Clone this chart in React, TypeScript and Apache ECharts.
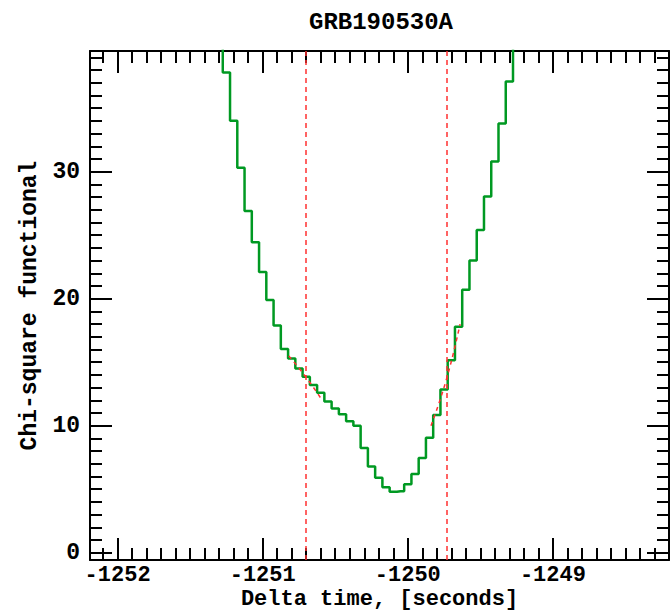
import React, { useEffect, useRef } from 'react';
import * as echarts from 'echarts';

const chartTitle = 'GRB190530A';
const xAxisTitle = 'Delta time, [seconds]';
const yAxisTitle = 'Chi-square functional';

const xRange = [-1252.19, -1248.2];
const yRange = [-0.57, 39.5];

const binTimes = [
  -1251.3, -1251.25, -1251.2, -1251.15, -1251.1, -1251.05, -1251.0, -1250.95, -1250.9, -1250.85,
  -1250.8, -1250.75, -1250.7, -1250.65, -1250.6, -1250.55, -1250.5, -1250.45, -1250.4, -1250.35,
  -1250.3, -1250.25, -1250.2, -1250.15, -1250.1, -1250.05, -1250.0, -1249.95, -1249.9, -1249.85,
  -1249.8, -1249.75, -1249.7, -1249.65, -1249.6, -1249.55, -1249.5, -1249.45, -1249.4, -1249.35,
  -1249.3, -1249.25,
];
const chiSquare = [
  42, 37.8, 34.0, 30.3, 26.9, 24.45, 22.1, 19.9, 17.9, 16.05,
  15.3, 14.5, 13.85, 13.2, 12.6, 11.9, 11.35, 10.9, 10.35, 10.0,
  8.25, 6.8, 5.9, 5.15, 4.8, 4.85, 5.4, 6.2, 7.45, 9.05,
  10.85, 12.85, 15.15, 17.8, 20.7, 23.0, 25.4, 28.05, 30.8, 33.8,
  37.1, 42,
];

const boundaryTimes = [-1250.703, -1249.73];
const leftFitTimes = [-1250.82, -1250.7, -1250.59];
const leftFitValues = [15.5, 13.8, 12.0];
const rightFitTimes = [-1249.84, -1249.73, -1249.64];
const rightFitValues = [10.0, 13.8, 18.0];

const FONT = '"Liberation Mono", "DejaVu Sans Mono", monospace';
const FS = 23;
const XFS = 22;

const isInt = (v: number, step: number) => Math.abs(v / step - Math.round(v / step)) < 1e-6;

function makeX(position: 'top' | 'bottom', labels: boolean) {
  return {
    type: 'value',
    position,
    min: xRange[0],
    max: xRange[1],
    minInterval: 1,
    maxInterval: 1,
    axisLine: { show: true, onZero: false, lineStyle: { color: '#000', width: 2 } },
    axisTick: { show: true, inside: true, length: 22, lineStyle: { color: '#000', width: 2 } },
    minorTick: { show: true, splitNumber: 10, length: 12, lineStyle: { color: '#000', width: 2 } },
    splitLine: { show: false },
    minorSplitLine: { show: false },
    axisLabel: {
      show: labels,
      margin: 4,
      color: '#000',
      fontFamily: FONT,
      fontWeight: 'bold',
      fontSize: XFS,
      lineHeight: 22,
      formatter: (v: number) => (isInt(v, 1) ? String(Math.round(v)) : ''),
    },
    name: labels ? xAxisTitle : '',
    nameLocation: 'middle',
    nameGap: 28,
    nameMoveOverlap: false,
    nameTextStyle: { color: '#000', fontFamily: FONT, fontWeight: 'bold', fontSize: XFS, lineHeight: 22 },
  };
}

function makeY(position: 'left' | 'right', labels: boolean) {
  return {
    type: 'value',
    position,
    min: yRange[0],
    max: yRange[1],
    minInterval: 10,
    maxInterval: 10,
    axisLine: { show: true, onZero: false, lineStyle: { color: '#000', width: 2 } },
    axisTick: { show: true, inside: true, length: 22, lineStyle: { color: '#000', width: 2 } },
    minorTick: { show: true, splitNumber: 10, length: 12, lineStyle: { color: '#000', width: 2 } },
    splitLine: { show: false },
    minorSplitLine: { show: false },
    axisLabel: {
      show: labels,
      margin: 10,
      color: '#000',
      fontFamily: FONT,
      fontWeight: 'bold',
      fontSize: FS,
      formatter: (v: number) => (isInt(v, 10) ? String(Math.round(v)) : ''),
    },
    name: labels ? yAxisTitle : '',
    nameLocation: 'middle',
    nameGap: 49,
    nameMoveOverlap: false,
    nameTextStyle: { color: '#000', fontFamily: FONT, fontWeight: 'bold', fontSize: FS },
  };
}

export default function App() {
  const ref = useRef<HTMLDivElement>(null);
  useEffect(() => {
    if (!ref.current) return;
    const chart = echarts.init(ref.current, null, { renderer: 'svg' });
    chart.setOption({
      animation: false,
      backgroundColor: '#fff',
      grid: { left: 90, right: 1, top: 51, bottom: 53, outerBoundsMode: 'none', containLabel: false },
      graphic: [
        {
          type: 'text',
          x: 381,
          y: 22,
          style: {
            text: chartTitle,
            fill: '#000',
            font: `bold 24px ${FONT}`,
            align: 'center',
            verticalAlign: 'middle',
            textAlign: 'center',
            textVerticalAlign: 'middle',
          },
        },
      ],
      xAxis: [makeX('bottom', true), makeX('top', false)],
      yAxis: [makeY('left', true), makeY('right', false)],
      series: [
        {
          type: 'line',
          step: 'middle',
          xAxisIndex: 0,
          yAxisIndex: 0,
          symbol: 'none',
          clip: true,
          data: binTimes.map((t, i) => [t, chiSquare[i]]),
          lineStyle: { color: '#009922', width: 2.5 },
          markLine: {
            silent: true,
            symbol: 'none',
            label: { show: false },
            lineStyle: { color: '#ff3030', type: [5, 4], width: 1.5 },
            data: boundaryTimes.map((t) => ({ xAxis: t })),
          },
          z: 2,
        },
        {
          type: 'line',
          smooth: true,
          symbol: 'none',
          data: leftFitTimes.map((t, i) => [t, leftFitValues[i]]),
          lineStyle: { color: '#ff3030', type: [4, 4], width: 1.5 },
          z: 3,
        },
        {
          type: 'line',
          smooth: true,
          symbol: 'none',
          data: rightFitTimes.map((t, i) => [t, rightFitValues[i]]),
          lineStyle: { color: '#ff3030', type: [4, 4], width: 1.5 },
          z: 3,
        },
      ],
    });
    return () => chart.dispose();
  }, []);
  return (
    <div
      ref={ref}
      style={{ position: 'fixed', left: 0, top: 0, width: 670, height: 613, background: '#fff' }}
    />
  );
}
